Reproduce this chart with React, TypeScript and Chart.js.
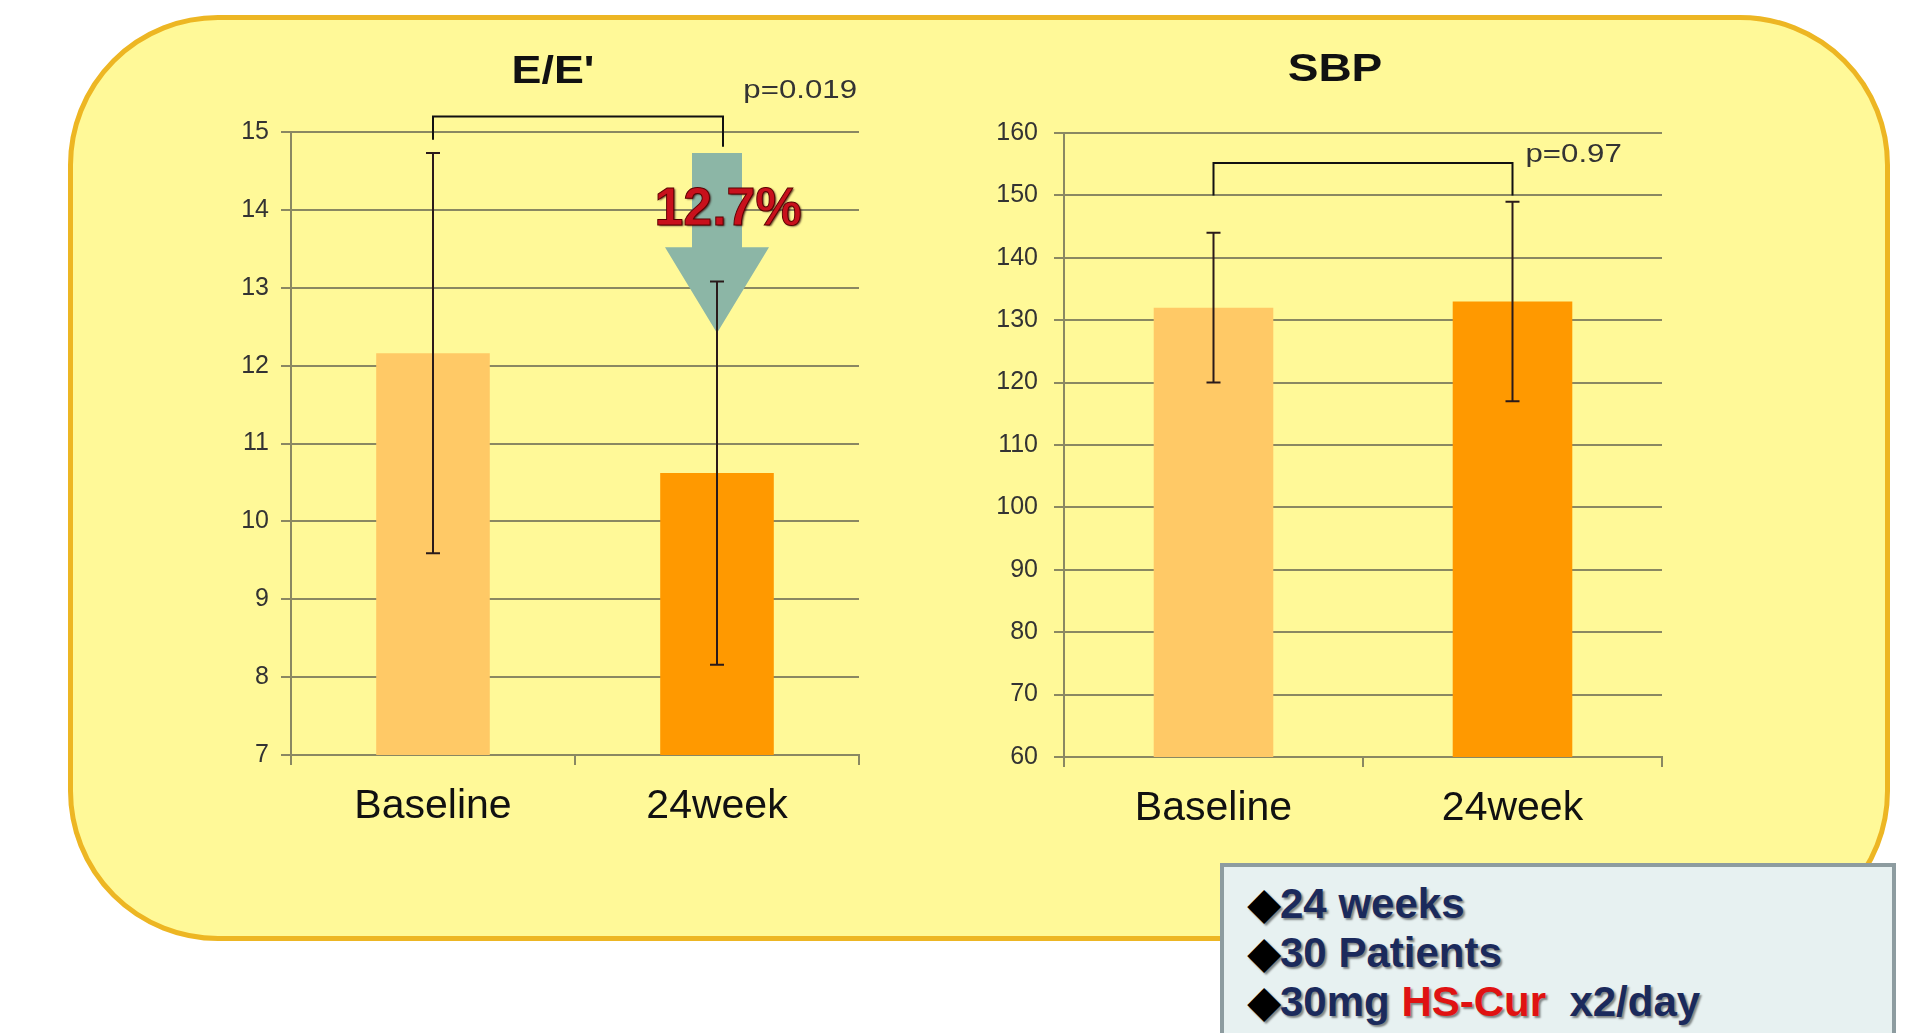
import React, { useEffect, useRef } from 'react';
import { Chart, registerables } from 'chart.js';

Chart.register(...registerables);

// ---------- data ----------
const categories = ['Baseline', '24week'];

const eeMeans = [12.16, 10.62];
const eeSD = [2.57, 2.46];
const eeAxis = { min: 7, max: 15, step: 1 };
const eeBracket = { top: 15.2, leftEnd: 14.9, rightEnd: 14.81 };
const eeP = 'p=0.019';
const eePValueY = 15.53;
const eeArrow = { top: 14.73, headStart: 13.52, tip: 12.42 };
const eeChangeLabel = '12.7%';
const eeChangeY = 14.0;

const sbpMeans = [132, 133];
const sbpSD = [12, 16];
const sbpAxis = { min: 60, max: 160, step: 10 };
const sbpBracket = { top: 155.2, leftEnd: 150, rightEnd: 150 };
const sbpP = 'p=0.97';
const sbpPValueY = 156.5;

const barColors = ['#FFC966', '#FF9900'];

const legendLines = [
  [{ t: '24 weeks', c: '#1B2A5C' }],
  [{ t: '30 Patients', c: '#1B2A5C' }],
  [
    { t: '30mg ', c: '#1B2A5C' },
    { t: 'HS-Cur', c: '#E01212' },
    { t: '  x2/day', c: '#1B2A5C' },
  ],
];

// ---------- styles ----------
const FONT = '"Liberation Sans", Arial, Helvetica, sans-serif';
const GRID = '#8a8862';

function stretchedText(
  ctx: CanvasRenderingContext2D,
  text: string,
  x: number,
  y: number,
  font: string,
  color: string,
  align: CanvasTextAlign,
  sx: number
) {
  ctx.save();
  ctx.font = font;
  ctx.fillStyle = color;
  ctx.textBaseline = 'middle';
  ctx.textAlign = align;
  ctx.translate(x, y);
  ctx.scale(sx, 1);
  ctx.fillText(text, 0, 0);
  ctx.restore();
}

type Cfg = {
  id: string;
  left: number;
  width: number;
  height: number;
  padding: { left: number; top: number; right: number; bottom: number };
  yWidth: number;
  xHeight: number;
  yTickPad: number;
  means: number[];
  sd: number[];
  axis: { min: number; max: number; step: number };
  title: string;
  titlePos: { x: number; y: number };
  titleSize: number;
  bracket: { top: number; leftEnd: number; rightEnd: number };
  bracketRightOffset: number;
  pText: string;
  pY: number;
  pAlign: 'right' | 'left';
  arrow?: boolean;
};

function makePlugin(cfg: Cfg) {
  return {
    id: 'annot_' + cfg.id,
    beforeDatasetsDraw(chart: any) {
      if (!cfg.arrow) return;
      const ctx = chart.ctx as CanvasRenderingContext2D;
      const xs = chart.scales.x;
      const ys = chart.scales.y;
      const cx = xs.getPixelForValue(1);
      const top = ys.getPixelForValue(eeArrow.top);
      const hs = ys.getPixelForValue(eeArrow.headStart);
      const tip = ys.getPixelForValue(eeArrow.tip);
      const sw = 25;
      const hw = 52;
      ctx.save();
      ctx.fillStyle = 'rgb(140,182,166)';
      ctx.beginPath();
      ctx.moveTo(cx - sw, top);
      ctx.lineTo(cx + sw, top);
      ctx.lineTo(cx + sw, hs);
      ctx.lineTo(cx + hw, hs);
      ctx.lineTo(cx, tip);
      ctx.lineTo(cx - hw, hs);
      ctx.lineTo(cx - sw, hs);
      ctx.closePath();
      ctx.fill();
      ctx.restore();
    },
    afterDatasetsDraw(chart: any) {
      const ctx = chart.ctx as CanvasRenderingContext2D;
      const ys = chart.scales.y;
      const meta = chart.getDatasetMeta(0);
      ctx.save();
      ctx.strokeStyle = '#2a1a1a';
      ctx.lineWidth = 2;
      cfg.means.forEach((m, i) => {
        const x = meta.data[i].x;
        const yt = ys.getPixelForValue(m + cfg.sd[i]);
        const yb = ys.getPixelForValue(m - cfg.sd[i]);
        ctx.beginPath();
        ctx.moveTo(x, yt);
        ctx.lineTo(x, yb);
        ctx.moveTo(x - 7, yt);
        ctx.lineTo(x + 7, yt);
        ctx.moveTo(x - 7, yb);
        ctx.lineTo(x + 7, yb);
        ctx.stroke();
      });
      ctx.restore();
    },
    afterDraw(chart: any) {
      const ctx = chart.ctx as CanvasRenderingContext2D;
      const xs = chart.scales.x;
      const ys = chart.scales.y;
      const area = chart.chartArea;
      // bracket
      const xl = xs.getPixelForValue(0);
      const xr = xs.getPixelForValue(1) + cfg.bracketRightOffset;
      const yTop = ys.getPixelForValue(cfg.bracket.top);
      ctx.save();
      ctx.strokeStyle = '#111';
      ctx.lineWidth = 2;
      ctx.beginPath();
      ctx.moveTo(xl, ys.getPixelForValue(cfg.bracket.leftEnd));
      ctx.lineTo(xl, yTop);
      ctx.lineTo(xr, yTop);
      ctx.lineTo(xr, ys.getPixelForValue(cfg.bracket.rightEnd));
      ctx.stroke();
      ctx.restore();
      // title
      stretchedText(ctx, cfg.title, cfg.titlePos.x, cfg.titlePos.y, `bold ${cfg.titleSize}px ${FONT}`, '#111', 'center', 1.18);
      // p value
      const py = ys.getPixelForValue(cfg.pY);
      if (cfg.pAlign === 'right') {
        stretchedText(ctx, cfg.pText, area.right - 2, py, `26px ${FONT}`, '#333', 'right', 1.2);
      } else {
        stretchedText(ctx, cfg.pText, xr + 13, py, `26px ${FONT}`, '#333', 'left', 1.2);
      }
      // change label
      if (cfg.arrow) {
        const cx = xs.getPixelForValue(1) + 11;
        const cy = ys.getPixelForValue(eeChangeY);
        ctx.save();
        ctx.font = `bold 54px ${FONT}`;
        ctx.textAlign = 'center';
        ctx.textBaseline = 'middle';
        ctx.shadowColor = 'rgba(40,0,0,0.75)';
        ctx.shadowBlur = 2;
        ctx.shadowOffsetX = 1.5;
        ctx.shadowOffsetY = 1.5;
        ctx.fillStyle = '#C8101C';
        ctx.translate(cx, cy);
        ctx.scale(0.96, 1);
        ctx.fillText(eeChangeLabel, 0, 0);
        ctx.shadowColor = 'transparent';
        ctx.lineWidth = 1;
        ctx.strokeStyle = '#5a0000';
        ctx.strokeText(eeChangeLabel, 0, 0);
        ctx.restore();
      }
    },
  };
}

function BarPanel({ cfg }: { cfg: Cfg }) {
  const ref = useRef<HTMLCanvasElement | null>(null);
  useEffect(() => {
    if (!ref.current) return;
    const chart = new Chart(ref.current, {
      type: 'bar',
      data: {
        labels: categories,
        datasets: [
          {
            data: cfg.means,
            backgroundColor: barColors,
            borderWidth: 0,
            barPercentage: 0.4,
            categoryPercentage: 1,
          },
        ],
      },
      options: {
        responsive: false,
        animation: false,
        events: [],
        layout: { padding: cfg.padding },
        plugins: { legend: { display: false }, tooltip: { enabled: false }, title: { display: false } },
        scales: {
          x: {
            afterFit: (s: any) => {
              s.height = cfg.xHeight;
            },
            grid: {
              display: true,
              drawOnChartArea: false,
              drawTicks: true,
              tickLength: 10,
              offset: true,
              color: GRID,
              lineWidth: 2,
            },
            border: { display: true, color: GRID, width: 2 },
            ticks: { color: '#111', padding: 17, font: { family: FONT, size: 41 } },
          },
          y: {
            min: cfg.axis.min,
            max: cfg.axis.max,
            afterFit: (s: any) => {
              s.width = cfg.yWidth;
            },
            grid: { color: GRID, lineWidth: 2, drawTicks: true, tickLength: 10 },
            border: { display: true, color: GRID, width: 2 },
            ticks: {
              stepSize: cfg.axis.step,
              color: '#333',
              padding: cfg.yTickPad,
              font: { family: FONT, size: 25 },
            },
          },
        },
      },
      plugins: [makePlugin(cfg)],
    } as any);
    return () => chart.destroy();
  }, []);
  return (
    <canvas
      ref={ref}
      width={cfg.width}
      height={cfg.height}
      style={{ position: 'absolute', left: cfg.left, top: 0, width: cfg.width, height: cfg.height }}
    />
  );
}

const leftCfg: Cfg = {
  id: 'ee',
  left: 160,
  width: 740,
  height: 870,
  padding: { left: 20, top: 132, right: 41, bottom: 15 },
  yWidth: 111,
  xHeight: 100,
  yTickPad: 12,
  means: eeMeans,
  sd: eeSD,
  axis: eeAxis,
  title: "E/E'",
  titlePos: { x: 393, y: 73 },
  titleSize: 38,
  bracket: eeBracket,
  bracketRightOffset: 6,
  pText: eeP,
  pY: eePValueY,
  pAlign: 'right',
  arrow: true,
};

const rightCfg: Cfg = {
  id: 'sbp',
  left: 930,
  width: 760,
  height: 870,
  padding: { left: 20, top: 133, right: 28, bottom: 15 },
  yWidth: 114,
  xHeight: 98,
  yTickPad: 16,
  means: sbpMeans,
  sd: sbpSD,
  axis: sbpAxis,
  title: 'SBP',
  titlePos: { x: 405, y: 70 },
  titleSize: 39,
  bracket: sbpBracket,
  bracketRightOffset: 0,
  pText: sbpP,
  pY: sbpPValueY,
  pAlign: 'left',
};

export default function App() {
  return (
    <div
      style={{
        position: 'absolute',
        left: 0,
        top: 0,
        width: 1916,
        height: 1033,
        overflow: 'hidden',
        background: '#ffffff',
        fontFamily: FONT,
      }}
    >
      <div
        style={{
          position: 'absolute',
          left: 68,
          top: 15,
          width: 1822,
          height: 926,
          boxSizing: 'border-box',
          border: '5px solid #EDB623',
          borderRadius: 150,
          background: '#FFF998',
        }}
      />
      <BarPanel cfg={leftCfg} />
      <BarPanel cfg={rightCfg} />
      <div
        style={{
          position: 'absolute',
          left: 1220,
          top: 863,
          width: 676,
          height: 200,
          boxSizing: 'border-box',
          border: '4px solid #8D9CA0',
          background: '#E7F1F1',
          paddingLeft: 24,
          paddingTop: 12,
        }}
      >
        {legendLines.map((line, i) => (
          <div
            key={i}
            style={{
              fontSize: 42,
              fontWeight: 'bold',
              lineHeight: '49px',
              whiteSpace: 'pre',
              textShadow: '2px 2px 2px rgba(0,0,0,0.45)',
            }}
          >
            <span style={{ color: '#000' }}>◆</span>
            {line.map((s, j) => (
              <span key={j} style={{ color: s.c }}>
                {s.t}
              </span>
            ))}
          </div>
        ))}
      </div>
    </div>
  );
}
